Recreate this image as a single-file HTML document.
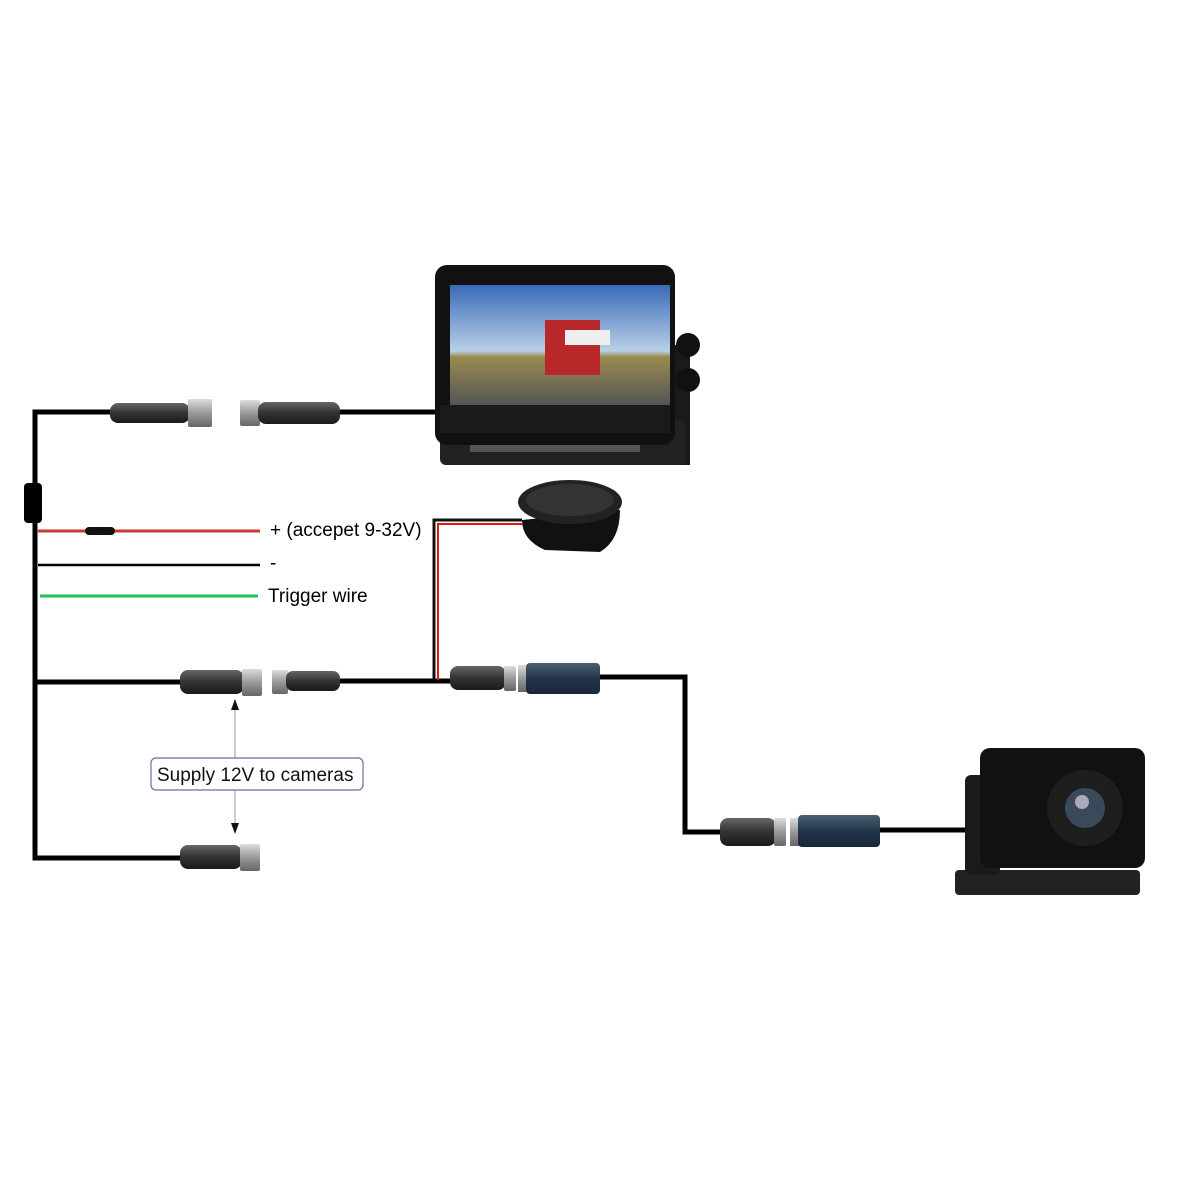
<!DOCTYPE html>
<html><head><meta charset="utf-8"><style>
html,body{margin:0;padding:0;background:#fff;width:1200px;height:1200px;overflow:hidden}
svg text{font-family:"Liberation Sans","DejaVu Sans",sans-serif}
</style></head><body>
<svg width="1200" height="1200" viewBox="0 0 1200 1200" xmlns="http://www.w3.org/2000/svg">
<defs>
<linearGradient id="cg" x1="0" y1="0" x2="0" y2="1"><stop offset="0" stop-color="#666"/><stop offset=".5" stop-color="#333"/><stop offset="1" stop-color="#1a1a1a"/></linearGradient>
<linearGradient id="bg" x1="0" y1="0" x2="0" y2="1"><stop offset="0" stop-color="#4a6070"/><stop offset=".5" stop-color="#22344a"/><stop offset="1" stop-color="#182838"/></linearGradient>
<linearGradient id="mg" x1="0" y1="0" x2="0" y2="1"><stop offset="0" stop-color="#ddd"/><stop offset=".5" stop-color="#999"/><stop offset="1" stop-color="#666"/></linearGradient>
<linearGradient id="sky" x1="0" y1="0" x2="0" y2="1"><stop offset="0" stop-color="#3a6ab8"/><stop offset=".55" stop-color="#b9d0e6"/><stop offset=".6" stop-color="#9a8a50"/><stop offset="1" stop-color="#555"/></linearGradient>
</defs>
<g fill="none" stroke="#000" stroke-width="5">
<path d="M110 412 H35 V858 H180"/>
<path d="M340 412 H440"/>
<path d="M35 682 H180"/>
<path d="M340 681 H452"/>
<path d="M600 677 H685 V832 H722"/>
<path d="M880 830 H975"/>
</g>
<rect x="24" y="483" width="18" height="40" rx="4" fill="#000"/>
<line x1="38" y1="531" x2="260" y2="531" stroke="#c83a32" stroke-width="3"/>
<rect x="85" y="527" width="30" height="8" rx="4" fill="#111"/>
<line x1="38" y1="565" x2="260" y2="565" stroke="#000" stroke-width="2.5"/>
<line x1="40" y1="596" x2="258" y2="596" stroke="#22c050" stroke-width="3"/>
<text x="270" y="536" font-size="19" fill="#000">+ (accepet 9-32V)</text>
<text x="270" y="569" font-size="19" fill="#000">-</text>
<text x="268" y="602" font-size="19" fill="#000">Trigger wire</text>
<path d="M434 680 V520 H522" fill="none" stroke="#111" stroke-width="3"/>
<path d="M438 680 V524 H522" fill="none" stroke="#e01818" stroke-width="2"/>
<rect x="110" y="403" width="80" height="20" rx="8" fill="url(#cg)"/>
<rect x="188" y="399" width="24" height="28" rx="2" fill="url(#mg)"/>
<rect x="240" y="400" width="20" height="26" rx="2" fill="url(#mg)"/>
<rect x="258" y="402" width="82" height="22" rx="8" fill="url(#cg)"/>
<rect x="180" y="670" width="64" height="24" rx="8" fill="url(#cg)"/>
<rect x="242" y="669" width="20" height="27" rx="2" fill="url(#mg)"/>
<rect x="272" y="670" width="16" height="24" rx="2" fill="url(#mg)"/>
<rect x="286" y="671" width="54" height="20" rx="7" fill="url(#cg)"/>
<rect x="450" y="666" width="56" height="24" rx="8" fill="url(#cg)"/>
<rect x="504" y="666" width="12" height="25" rx="2" fill="url(#mg)"/>
<rect x="518" y="665" width="10" height="27" fill="url(#mg)"/>
<rect x="526" y="663" width="74" height="31" rx="4" fill="url(#bg)"/>
<rect x="180" y="845" width="62" height="24" rx="8" fill="url(#cg)"/>
<rect x="240" y="844" width="20" height="27" rx="2" fill="url(#mg)"/>
<rect x="720" y="818" width="56" height="28" rx="8" fill="url(#cg)"/>
<rect x="774" y="818" width="12" height="28" rx="2" fill="url(#mg)"/>
<rect x="790" y="818" width="10" height="28" fill="url(#mg)"/>
<rect x="798" y="815" width="82" height="32" rx="4" fill="url(#bg)"/>
<line x1="235" y1="700" x2="235" y2="832" stroke="#999" stroke-width="1"/>
<path d="M231 710 L235 699 L239 710Z M231 823 L235 834 L239 823Z" fill="#111"/>
<rect x="151" y="758" width="212" height="32" rx="5" fill="#fff" stroke="#6670a0" stroke-width="1.2"/>
<text x="157" y="781" font-size="19" fill="#111">Supply 12V to cameras</text>
<path d="M522 520 Q522 540 545 550 L600 552 Q620 540 620 510 Z" fill="#111"/>
<ellipse cx="570" cy="502" rx="52" ry="22" fill="#222"/>
<ellipse cx="570" cy="500" rx="44" ry="16" fill="#333"/>
<rect x="665" y="345" width="25" height="120" fill="#1a1a1a"/>
<circle cx="688" cy="345" r="12" fill="#111"/><circle cx="688" cy="380" r="12" fill="#111"/>
<rect x="440" y="420" width="245" height="45" rx="6" fill="#222"/>
<rect x="470" y="438" width="170" height="14" fill="#555"/>
<rect x="435" y="265" width="240" height="180" rx="12" fill="#111"/>
<rect x="450" y="285" width="220" height="120" fill="url(#sky)"/>
<rect x="545" y="320" width="55" height="55" fill="#b8282a"/>
<rect x="565" y="330" width="45" height="15" fill="#eee"/>
<rect x="440" y="405" width="230" height="28" fill="#1a1a1a"/>
<rect x="955" y="870" width="185" height="25" rx="4" fill="#222"/>
<rect x="965" y="775" width="35" height="100" rx="6" fill="#1a1a1a"/>
<rect x="980" y="748" width="165" height="120" rx="10" fill="#111"/>
<circle cx="1085" cy="808" r="38" fill="#1e1e1e"/>
<circle cx="1085" cy="808" r="20" fill="#3a4a5a"/>
<circle cx="1082" cy="802" r="7" fill="#aab"/>
</svg>
</body></html>
